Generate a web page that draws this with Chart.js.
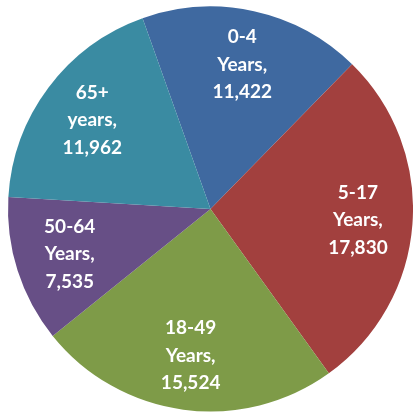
<!DOCTYPE html>
<html>
<head>
<meta charset="utf-8">
<script src="https://cdn.jsdelivr.net/npm/chart.js@4"></script>
<style>
  html, body { margin: 0; padding: 0; background: #fff; overflow: hidden; }
  #wrap { width: 413px; height: 412px; }
</style>
</head>
<body>
<div id="wrap"><canvas id="ageChart"></canvas></div>
<script>
// age groups, clockwise from the top
var ageGroups = ['0-4', '5-17', '18-49', '50-64', '65+'];
var ageWords = ['Years,', 'Years,', 'Years,', 'Years,', 'years,'];
var counts = [11422, 17830, 15524, 7535, 11962];
var sliceColors = ['#3f69a0', '#a2403e', '#7e9b48', '#674f86', '#3a8ba2'];

// white labels inside each slice
var sliceLabels = {
  id: 'sliceLabels',
  afterDatasetsDraw: function(chart){
    var ctx = chart.ctx;
    var meta = chart.getDatasetMeta(0);
    ctx.save();
    ctx.font = 'bold 19px Lato, "Open Sans", sans-serif';
    ctx.fillStyle = '#ffffff';
    ctx.textAlign = 'center';
    ctx.textBaseline = 'middle';
    meta.data.forEach(function(arc, i){
      var p = arc.getProps(['x', 'y', 'startAngle', 'endAngle', 'outerRadius'], true);
      var mid = (p.startAngle + p.endAngle) / 2;
      var r = p.outerRadius * 0.73;
      var cx = p.x + Math.cos(mid) * r;
      var cy = p.y + Math.sin(mid) * r;
      var lines = [ageGroups[i], ageWords[i], counts[i].toLocaleString('en-US')];
      lines.forEach(function(t, j){
        ctx.fillText(t, cx, cy + (j - 1) * 27.5);
      });
    });
    ctx.restore();
  }
};

new Chart(document.getElementById('ageChart'), {
  type: 'pie',
  data: {
    labels: ageGroups,
    datasets: [{
      data: counts,
      backgroundColor: sliceColors,
      borderWidth: 0,
      hoverOffset: 0
    }]
  },
  options: {
    responsive: true,
    maintainAspectRatio: false,
    animation: false,
    rotation: -19.6,
    layout: { padding: { left: 8, right: 0, top: 6, bottom: 0 } },
    plugins: {
      legend: { display: false },
      tooltip: { enabled: false }
    }
  },
  plugins: [sliceLabels]
});
</script>
</body>
</html>
